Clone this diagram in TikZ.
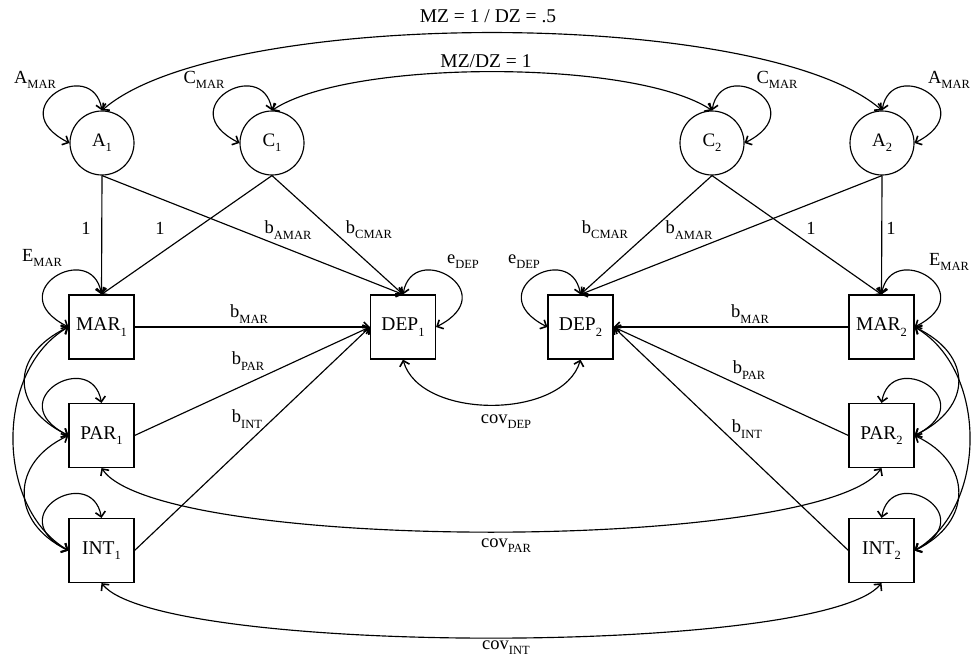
\documentclass[tikz,border=0pt]{standalone}
\usepackage{fontspec}
\setmainfont{Liberation Serif}
\usetikzlibrary{arrows.meta}
\newcommand\sbx[1]{\raisebox{-0.28em}{\fontsize{12.5}{12.5}\selectfont #1}}
\begin{document}
\begin{tikzpicture}[x=1pt,y=-1pt, line width=1.15pt,
  lat/.style={circle, draw, minimum size=64pt, inner sep=0pt, font=\fontsize{19}{19}\selectfont},
  obs/.style={rectangle, draw, minimum width=65pt, minimum height=64pt, inner sep=0pt, font=\fontsize{19.5}{19.5}\selectfont},
  lbl/.style={font=\fontsize{18.5}{18.5}\selectfont, inner sep=0pt},
  tip/.style={-{Straight Barb[length=5pt,width=10pt,line width=1.6pt]}},
  dtip/.style={{Straight Barb[length=5pt,width=10pt,line width=1.6pt]}-{Straight Barb[length=5pt,width=10pt,line width=1.6pt]}}
]
\useasboundingbox (0,0) rectangle (973,662);

% latent
\node[lat] (A1) at (102,143) {A\sbx{1}};
\node[lat] (C1) at (272,143) {C\sbx{1}};
\node[lat] (C2) at (712,143) {C\sbx{2}};
\node[lat] (A2) at (882,143) {A\sbx{2}};
% observed
\node[obs] (MAR1) at (101.5,327) {MAR\sbx{1}};
\node[obs] (PAR1) at (101.5,435.5) {PAR\sbx{1}};
\node[obs] (INT1) at (101.5,550.5) {INT\sbx{1}};
\node[obs] (DEP1) at (403,327) {DEP\sbx{1}};
\node[obs] (DEP2) at (580.5,327) {DEP\sbx{2}};
\node[obs] (MAR2) at (881.5,327) {MAR\sbx{2}};
\node[obs] (PAR2) at (881.5,435.5) {PAR\sbx{2}};
\node[obs] (INT2) at (881.5,550.5) {INT\sbx{2}};

% twin correlations
\draw[dtip] (A1.north) .. controls (220,7) and (764,7) .. (A2.north);
\draw[dtip] (C1.north) .. controls (350,59) and (634,59) .. (C2.north);
\node[lbl,font=\fontsize{19.5}{19.5}\selectfont] (lMZa) at (488,16) {MZ = 1 / DZ = .5};
\node[lbl,font=\fontsize{19.5}{19.5}\selectfont] (lMZc) at (486,61) {MZ/DZ = 1};

% self loops (left-opening)
\foreach \n in {A1,C1,MAR1,PAR1,INT1,DEP2}
  \draw[dtip] (\n.north) .. controls +(-10,-55) and +(-69,-35) .. (\n.west);
% self loops (right-opening)
\foreach \n in {A2,C2,MAR2,PAR2,INT2,DEP1}
  \draw[dtip] (\n.north) .. controls +(10,-55) and +(69,-35) .. (\n.east);

\node[lbl] (lA1) at (35,80) {A\sbx{MAR}};
\node[lbl] (lC1) at (204,80) {C\sbx{MAR}};
\node[lbl] (lC2) at (777,80) {C\sbx{MAR}};
\node[lbl] (lA2) at (949,80) {A\sbx{MAR}};
\node[lbl] (lE1) at (42,258) {E\sbx{MAR}};
\node[lbl] (lE2) at (949,262) {E\sbx{MAR}};
\node[lbl] (le1) at (463,262) {e\sbx{DEP}};
\node[lbl] (le2) at (524,262) {e\sbx{DEP}};

% paths from latent
\draw[tip] (A1.south) -- (MAR1.north);
\draw[tip] (C1.south) -- (MAR1.north);
\draw[tip] (A1.south) -- (DEP1.north);
\draw[tip] (C1.south) -- (DEP1.north);
\draw[tip] (A2.south) -- (MAR2.north);
\draw[tip] (C2.south) -- (MAR2.north);
\draw[tip] (A2.south) -- (DEP2.north);
\draw[tip] (C2.south) -- (DEP2.north);
\node[lbl] (l11) at (86,228) {1};
\node[lbl] (l12) at (160,228) {1};
\node[lbl] (lba1) at (288,230) {b\sbx{AMAR}};
\node[lbl] (lbc1) at (369,230) {b\sbx{CMAR}};
\node[lbl] (lbc2) at (605,230) {b\sbx{CMAR}};
\node[lbl] (lba2) at (689,230) {b\sbx{AMAR}};
\node[lbl] (l21) at (811,228) {1};
\node[lbl] (l22) at (891,228) {1};

% regressions on DEP
\draw[tip] (MAR1.east) -- (DEP1.west);
\draw[tip] (PAR1.east) -- (DEP1.west);
\draw[tip] (INT1.east) -- (DEP1.west);
\draw[tip] (MAR2.west) -- (DEP2.east);
\draw[tip] (PAR2.west) -- (DEP2.east);
\draw[tip] (INT2.west) -- (DEP2.east);
\node[lbl] (lbm1) at (249,314) {b\sbx{MAR}};
\node[lbl] (lbp1) at (248,361) {b\sbx{PAR}};
\node[lbl] (lbi1) at (247,419) {b\sbx{INT}};
\node[lbl] (lbm2) at (750,314) {b\sbx{MAR}};
\node[lbl] (lbp2) at (749,370) {b\sbx{PAR}};
\node[lbl] (lbi2) at (747,429) {b\sbx{INT}};

% within-twin covariances
\draw[dtip] (MAR1.west) .. controls (10,355) and (10,407) .. (PAR1.west);
\draw[dtip] (MAR1.west) .. controls (-5,370) and (-5,507) .. (INT1.west);
\draw[dtip] (PAR1.west) .. controls (10,463) and (10,522) .. (INT1.west);
\draw[dtip] (MAR2.east) .. controls (973,355) and (973,407) .. (PAR2.east);
\draw[dtip] (MAR2.east) .. controls (988,370) and (988,507) .. (INT2.east);
\draw[dtip] (PAR2.east) .. controls (973,463) and (973,522) .. (INT2.east);

% cross-twin covariances
\draw[dtip] (DEP1.south) .. controls (420,420) and (563,420) .. (DEP2.south);
\draw[dtip] (PAR1.south) .. controls (160,553) and (822,553) .. (PAR2.south);
\draw[dtip] (INT1.south) .. controls (160,656) and (822,656) .. (INT2.south);
\node[lbl] (lcd) at (506,422) {cov\sbx{DEP}};
\node[lbl] (lcp) at (506,546) {cov\sbx{PAR}};
\node[lbl] (lci) at (506,648) {cov\sbx{INT}};
\end{tikzpicture}
\end{document}
